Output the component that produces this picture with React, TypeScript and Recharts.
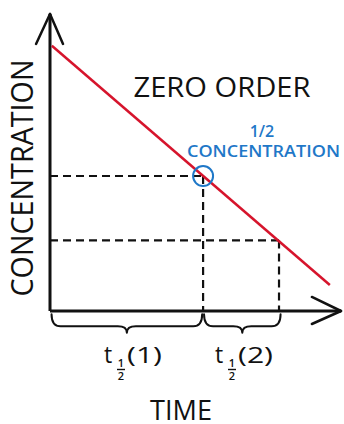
import React from "react";
import {
  LineChart,
  Line,
  XAxis,
  YAxis,
  ReferenceLine,
  ReferenceDot,
  ReferenceArea,
  Customized,
} from "recharts";

// Red zero-order line: endpoints
const lineTimes = [0.06, 9.03];
const lineConc = [100, 9.8];

// Half-life points (time, concentration)
const halfLifeTimes = [4.94, 7.39];
const halfLifeConc = [50.9, 26.6];
const halfLifeLabels = ["(1)", "(2)"];

// Axis extents
const timeMax = 9.39;
const concMax = 112;

const RED = "#d6142c";
const BLUE = "#1f78c8";
const FONT = "'Open Sans', 'DejaVu Sans', sans-serif";

const lineData = lineTimes.map((t, i) => ({ t, c: lineConc[i] }));

const Brace = (props: any) => {
  const { x, y, width, height } = props;
  const x0 = x;
  const x1 = x + width;
  const y0 = y;
  const y1 = y + height;
  const ym = y0 + height * 0.65;
  const xm = (x0 + x1) / 2;
  const r = 9;
  const d = `M ${x0} ${y0} Q ${x0} ${ym} ${x0 + r} ${ym} L ${xm - r} ${ym} Q ${xm} ${ym} ${xm} ${y1} Q ${xm} ${ym} ${xm + r} ${ym} L ${x1 - r} ${ym} Q ${x1} ${ym} ${x1} ${y0}`;
  return <path d={d} fill="none" stroke="#111" strokeWidth={2} strokeLinecap="round" strokeLinejoin="round" />;
};

const HalfLabel = ({ x, label }: { x: number; label: string }) => (
  <g fontFamily={FONT} fill="#111">
    <text x={x} y={363} fontSize={23}>t</text>
    <text x={x + 17} y={367} fontSize={11} fontWeight={600} textAnchor="middle">1</text>
    <line x1={x + 13} x2={x + 21} y1={369.5} y2={369.5} stroke="#111" strokeWidth={1.4} />
    <text x={x + 17} y={380} fontSize={11} fontWeight={600} textAnchor="middle">2</text>
    <text x={x + 23} y={363} fontSize={22} textLength={35} lengthAdjust="spacingAndGlyphs">{label}</text>
  </g>
);

const Texts = () => (
  <g>
    <text x={222} y={97} fontSize={28} fontFamily={FONT} textAnchor="middle" fill="#111" textLength={177} lengthAdjust="spacingAndGlyphs">
      ZERO ORDER
    </text>
    <text x={262} y={137} fontSize={16} fontWeight={600} fontFamily={FONT} textAnchor="middle" fill={BLUE}>
      1/2
    </text>
    <text x={187} y={157} fontSize={17} fontWeight={600} fontFamily={FONT} fill={BLUE} textLength={153} lengthAdjust="spacingAndGlyphs">
      CONCENTRATION
    </text>
    <text transform="translate(33,178) rotate(-90)" x={0} y={0} fontSize={31} fontFamily={FONT} textAnchor="middle" fill="#111" textLength={237} lengthAdjust="spacingAndGlyphs">
      CONCENTRATION
    </text>
    <text x={181} y={420} fontSize={27} fontFamily={FONT} textAnchor="middle" fill="#111" textLength={62} lengthAdjust="spacingAndGlyphs">
      TIME
    </text>
    <HalfLabel x={104} label={halfLifeLabels[0]} />
    <HalfLabel x={215} label={halfLifeLabels[1]} />
  </g>
);

export default function App() {
  const braceStarts = [0.05, halfLifeTimes[0] + 0.03];
  const braceEnds = [halfLifeTimes[0] - 0.03, halfLifeTimes[1] + 0.05];
  return (
    <div style={{ position: "absolute", left: 0, top: 0, width: 344, height: 424, background: "#fff" }}>
      <LineChart width={344} height={424} data={lineData} margin={{ top: 14, right: 3, bottom: 113, left: 50 }}>
        <XAxis type="number" dataKey="t" domain={[0, timeMax]} hide allowDataOverflow />
        <YAxis type="number" domain={[0, concMax]} hide allowDataOverflow />

        {/* dashed guides */}
        {halfLifeTimes.map((t, i) => (
          <ReferenceLine key={`h${i}`} segment={[{ x: 0, y: halfLifeConc[i] }, { x: t, y: halfLifeConc[i] }]} stroke="#111" strokeWidth={2.2} strokeDasharray="8 5" ifOverflow="visible" />
        ))}
        {halfLifeTimes.map((t, i) => (
          <ReferenceLine key={`v${i}`} segment={[{ x: t, y: halfLifeConc[i] }, { x: t, y: 0 }]} stroke="#111" strokeWidth={2.2} strokeDasharray="8 5" ifOverflow="visible" />
        ))}

        {/* axes */}
        <ReferenceLine segment={[{ x: 0, y: 0 }, { x: 0, y: concMax }]} stroke="#111" strokeWidth={3} ifOverflow="visible" />
        <ReferenceLine segment={[{ x: 0, y: 0 }, { x: timeMax, y: 0 }]} stroke="#111" strokeWidth={3} ifOverflow="visible" />
        <ReferenceLine segment={[{ x: -0.45, y: 100.7 }, { x: 0, y: concMax }]} stroke="#111" strokeWidth={2.5} strokeLinecap="round" ifOverflow="visible" />
        <ReferenceLine segment={[{ x: 0.42, y: 100.7 }, { x: 0, y: concMax }]} stroke="#111" strokeWidth={2.5} strokeLinecap="round" ifOverflow="visible" />
        <ReferenceLine segment={[{ x: 8.45, y: 5.3 }, { x: timeMax, y: 0 }]} stroke="#111" strokeWidth={2.5} strokeLinecap="round" ifOverflow="visible" />
        <ReferenceLine segment={[{ x: 8.45, y: -4.9 }, { x: timeMax, y: 0 }]} stroke="#111" strokeWidth={2.5} strokeLinecap="round" ifOverflow="visible" />

        {/* braces */}
        {braceStarts.map((s, i) => (
          <ReferenceArea key={`b${i}`} x1={s} x2={braceEnds[i]} y1={-1.2} y2={-8.2} ifOverflow="visible" shape={<Brace />} />
        ))}

        <Line type="linear" dataKey="c" stroke={RED} strokeWidth={2.5} dot={false} isAnimationActive={false} />

        <ReferenceDot x={halfLifeTimes[0]} y={halfLifeConc[0]} r={10} fill="none" stroke={BLUE} strokeWidth={2} ifOverflow="visible" />

        <Customized component={<Texts />} />
      </LineChart>
    </div>
  );
}
